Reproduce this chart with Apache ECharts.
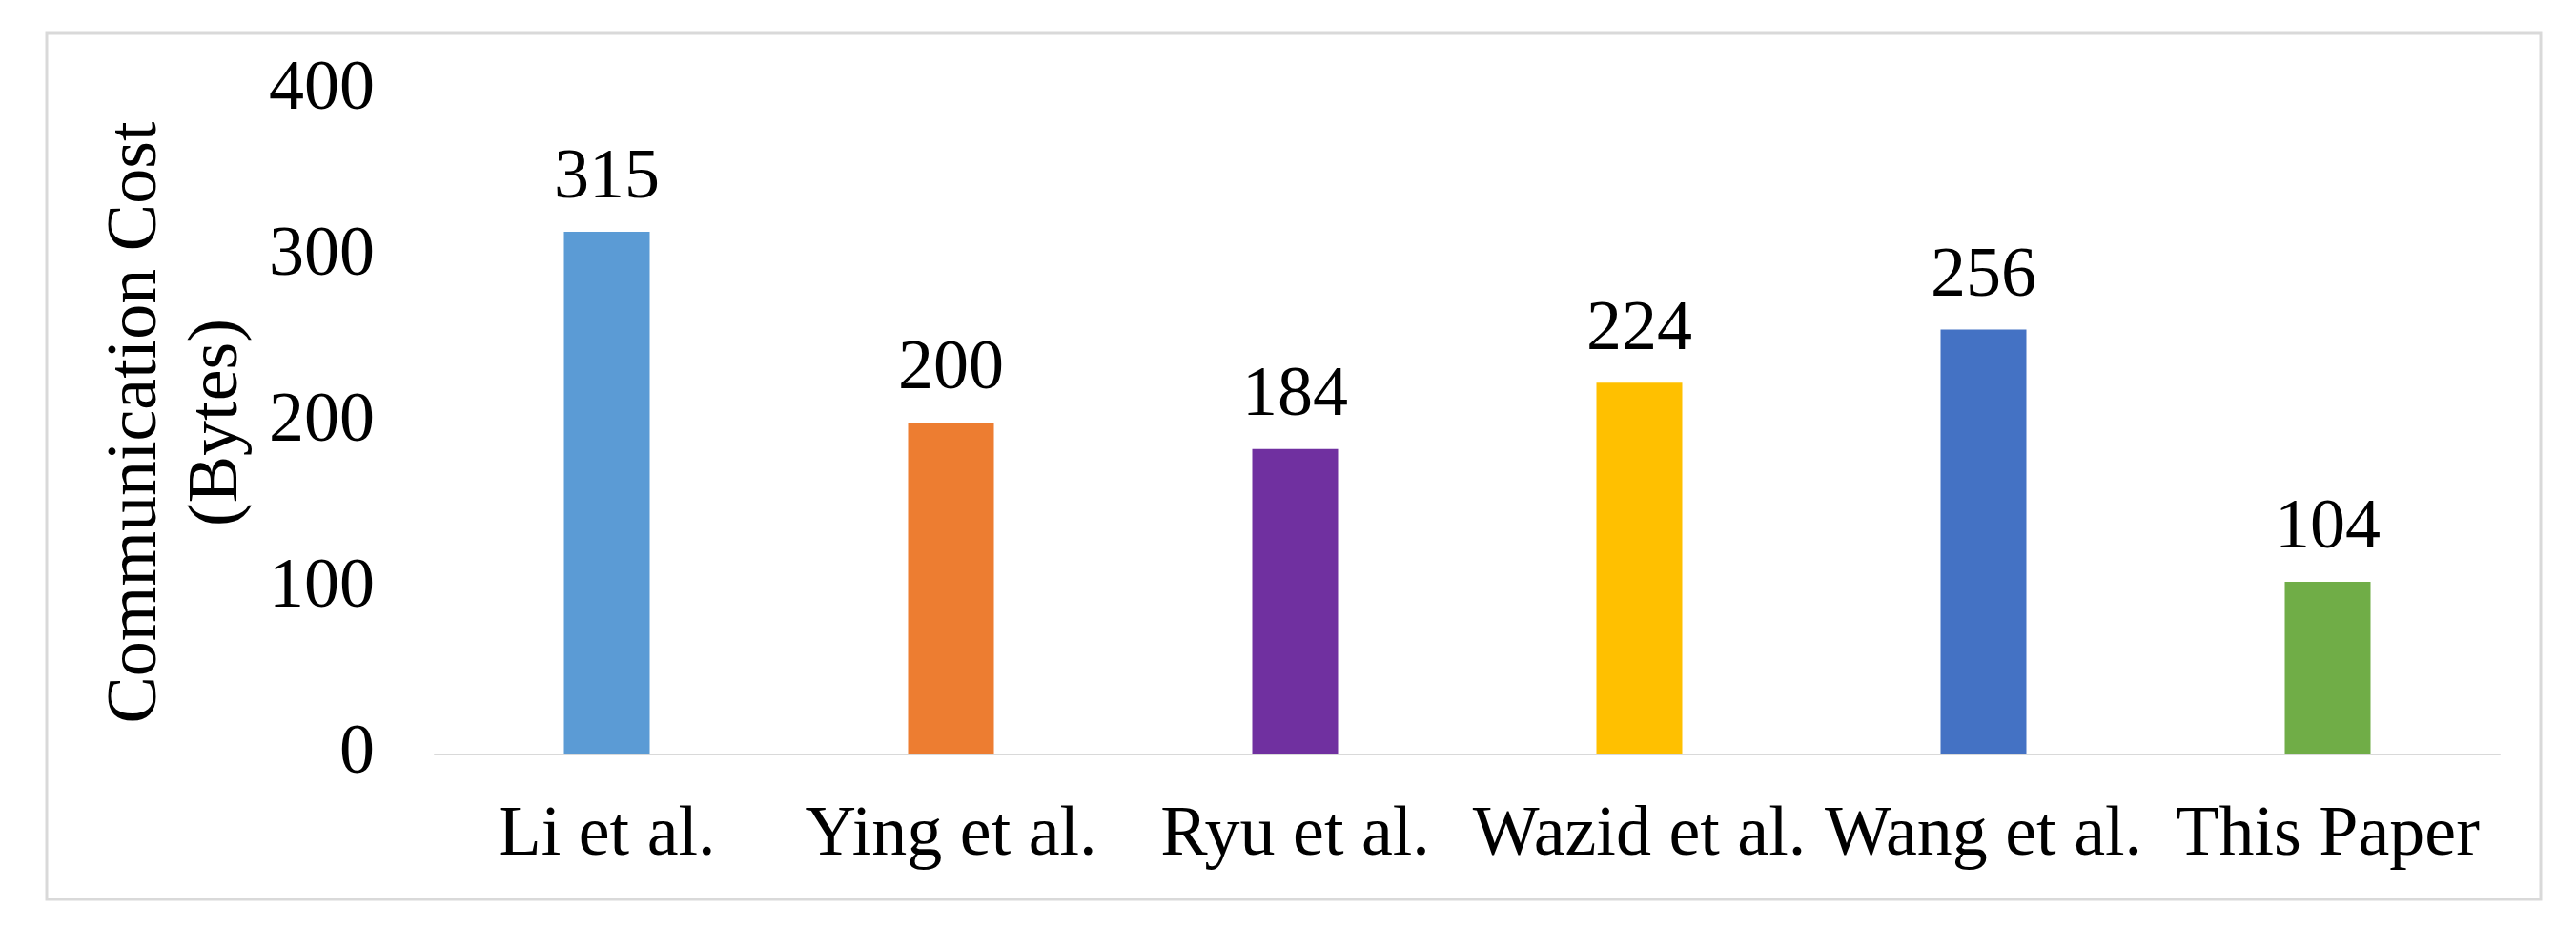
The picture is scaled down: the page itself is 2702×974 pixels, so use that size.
<!DOCTYPE html>
<html>
<head>
<meta charset="utf-8">
<script src="https://cdn.jsdelivr.net/npm/echarts@6/dist/echarts.min.js"></script>
<style>
  html, body { margin: 0; padding: 0; background: #fff; }
  #chart { width: 2702px; height: 974px; }
</style>
</head>
<body>
<div id="chart"></div>
<script>
// values
const schemes = ['Li et al.', 'Ying et al.', 'Ryu et al.', 'Wazid et al.', 'Wang et al.', 'This Paper']
const costBytes = [315, 200, 184, 224, 256, 104]
const barColors = ['#5B9BD5', '#ED7D31', '#7030A0', '#FFC000', '#4472C4', '#70AD47']
const yTicks = { min: 0, max: 400, step: 100 }

const serif = "'Times New Roman', 'Liberation Serif', serif"
const chart = echarts.init(document.getElementById('chart'))

const option = {
  backgroundColor: '#fff',
  animation: false,
  graphic: [
    {
      // outer chart frame
      type: 'rect',
      shape: { x: 49, y: 35, width: 2616, height: 908 },
      style: { fill: 'none', stroke: '#D9D9D9', lineWidth: 3 },
      silent: true
    }
  ],
  grid: {
    left: 456,
    right: 80,
    top: 95,
    bottom: 183
  },
  xAxis: {
    type: 'category',
    data: schemes,
    axisLine: { show: true, lineStyle: { color: '#D9D9D9', width: 2 } },
    axisTick: { show: false },
    axisLabel: {
      color: '#000',
      fontFamily: serif,
      fontSize: 74,
      lineHeight: 74,
      margin: 49,
      interval: 0
    }
  },
  yAxis: {
    type: 'value',
    min: yTicks.min,
    max: yTicks.max,
    interval: yTicks.step,
    name: 'Communication Cost\n(Bytes)',
    nameLocation: 'middle',
    nameGap: 180,
    nameTextStyle: {
      color: '#000',
      fontFamily: serif,
      fontSize: 74,
      lineHeight: 85,
      align: 'center'
    },
    axisLine: { show: false },
    axisTick: { show: false },
    splitLine: { show: false },
    axisLabel: {
      color: '#000',
      fontFamily: serif,
      fontSize: 74,
      margin: 63
    }
  },
  series: [
    {
      type: 'bar',
      barWidth: 90,
      data: costBytes.map((v, i) => ({ value: v, itemStyle: { color: barColors[i] } })),
      label: {
        show: true,
        position: 'top',
        distance: 18,
        color: '#000',
        fontFamily: serif,
        fontSize: 74,
        lineHeight: 74
      }
    }
  ]
}

chart.setOption(option)
</script>
</body>
</html>
